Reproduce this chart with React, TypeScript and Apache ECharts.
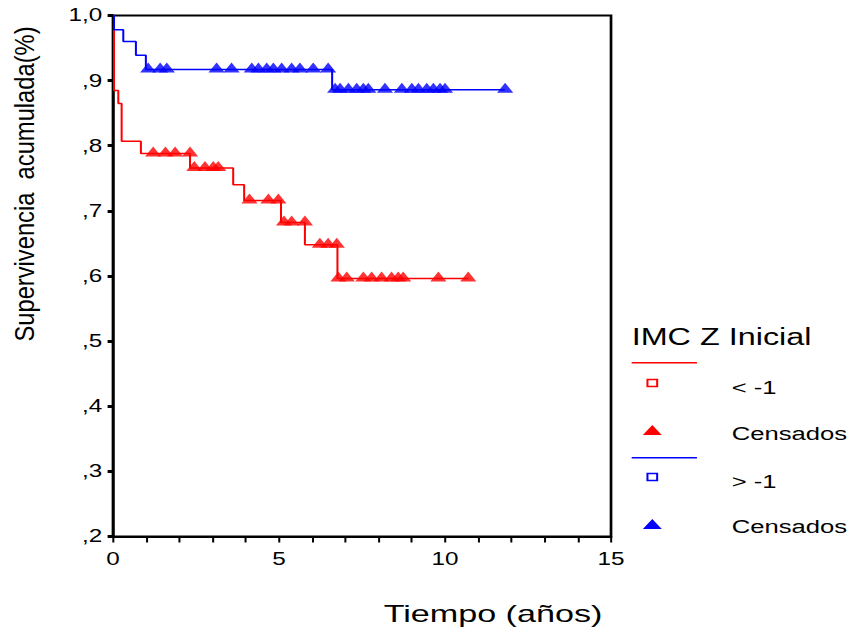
import React, { useEffect, useRef } from "react";
import * as echarts from "echarts";

// Kaplan–Meier steps: event times (years) and cumulative survival after each step
const redTimes = [0, 0.03, 0.16, 0.26, 0.84, 2.32, 3.62, 3.95, 5.06, 5.78, 6.76, 10.7];
const redSurv = [1.0, 0.885, 0.865, 0.807, 0.788, 0.766, 0.74, 0.716, 0.682, 0.648, 0.596, 0.596];

const blueTimes = [0, 0.03, 0.31, 0.69, 0.99, 6.6, 11.8];
const blueSurv = [1.0, 0.978, 0.96, 0.939, 0.917, 0.886, 0.886];

// Censored observations
const redCensTimes = [
  1.21, 1.58, 1.87, 2.32,
  2.45, 2.77, 3.02, 3.17,
  4.11, 4.68, 4.98,
  5.15, 5.38, 5.78,
  6.23, 6.48, 6.74,
  6.79, 7.04, 7.54, 7.79, 8.09, 8.39, 8.59, 8.74, 9.8, 10.7,
];
const redCensSurv = [
  0.788, 0.788, 0.788, 0.788,
  0.766, 0.766, 0.766, 0.766,
  0.716, 0.716, 0.716,
  0.682, 0.682, 0.682,
  0.648, 0.648, 0.648,
  0.596, 0.596, 0.596, 0.596, 0.596, 0.596, 0.596, 0.596, 0.596, 0.596,
];

const blueCensTimes = [
  1.06, 1.42, 1.62, 3.12, 3.57, 4.18, 4.38, 4.63, 4.83, 5.08, 5.38, 5.63, 6.03, 6.48,
  6.69, 6.84, 7.09, 7.34, 7.54, 7.69, 8.19, 8.7, 9.0, 9.2, 9.45, 9.65, 9.85, 10.0, 11.81,
];
const blueCensSurv = [
  0.917, 0.917, 0.917, 0.917, 0.917, 0.917, 0.917, 0.917, 0.917, 0.917, 0.917, 0.917, 0.917, 0.917,
  0.886, 0.886, 0.886, 0.886, 0.886, 0.886, 0.886, 0.886, 0.886, 0.886, 0.886, 0.886, 0.886, 0.886, 0.886,
];

const xTickLabels = ["0", "5", "10", "15"];
const yTickLabels: Record<string, string> = {
  "2": ",2", "3": ",3", "4": ",4", "5": ",5", "6": ",6", "7": ",7", "8": ",8", "9": ",9", "10": "1,0",
};

const legendTitle = "IMC Z Inicial";
const groupLabels = ["< -1", "> -1"];
const censLabel = "Censados";
const xTitle = "Tiempo (años)";
const yTitle = "Supervivencia  acumulada(%)";

const RED = "#ff0000";
const BLUE = "#0000ff";
const FONT = "'Liberation Sans', Arial, Helvetica, sans-serif";

// the drawing is laid out on a narrower canvas and widened horizontally
const PAGE_W = 854;
const CHART_W = 633;
const STRETCH = PAGE_W / CHART_W;
const CHART_H = 631;

const zip = (a: number[], b: number[]) => a.map((v, i) => [v, b[i]]);

function legendItems() {
  const lx = 468.2;
  const lineEnd = 516.6;
  const mx = 483.5;
  const tx = 542.3;
  const rows = [
    { color: RED, lineY: 362.7, sqY: 383, labY: 387.5, triY: 430, censY: 434, label: groupLabels[0] },
    { color: BLUE, lineY: 457.7, sqY: 477, labY: 481.5, triY: 524, censY: 527, label: groupLabels[1] },
  ];
  const els: any[] = [
    {
      type: "text",
      x: lx,
      y: 337,
      style: { text: legendTitle, fill: "#000", font: `24px ${FONT}`, align: "left", verticalAlign: "middle" },
    },
  ];
  rows.forEach((r) => {
    els.push(
      {
        type: "line",
        shape: { x1: lx, y1: r.lineY, x2: lineEnd, y2: r.lineY },
        style: { stroke: r.color, lineWidth: 1.5 },
      },
      {
        type: "rect",
        shape: { x: mx - 3.6, y: r.sqY - 3.4, width: 7.2, height: 6.8 },
        style: { fill: "#fff", stroke: r.color, lineWidth: 1.5 },
      },
      {
        type: "text",
        x: tx,
        y: r.labY,
        style: { text: r.label, fill: "#000", font: `19px ${FONT}`, align: "left", verticalAlign: "middle" },
      },
      {
        type: "polygon",
        shape: { points: [[mx - 7, r.triY + 5], [mx + 7, r.triY + 5], [mx, r.triY - 5]] },
        style: { fill: r.color },
      },
      {
        type: "text",
        x: tx,
        y: r.censY,
        style: { text: censLabel, fill: "#000", font: `19px ${FONT}`, align: "left", verticalAlign: "middle" },
      }
    );
  });
  return els;
}

export default function App() {
  const ref = useRef<HTMLDivElement>(null);

  useEffect(() => {
    if (!ref.current) return;
    const chart = echarts.init(ref.current, undefined, { renderer: "svg" });
    chart.setOption({
      animation: false,
      backgroundColor: "#fff",
      grid: {
        show: true,
        left: 83.76,
        right: 180.1,
        top: 15.5,
        bottom: 94.5,
        borderColor: "#000",
        borderWidth: 2,
        backgroundColor: "transparent",
      },
      xAxis: {
        type: "value",
        min: 0,
        max: 15,
        interval: 1,
        axisLine: { show: true, lineStyle: { color: "#000", width: 2 } },
        axisTick: { show: true, length: 6, lineStyle: { color: "#000", width: 1.5 } },
        axisLabel: {
          color: "#000",
          fontFamily: FONT,
          fontSize: 18,
          margin: 14,
          formatter: (v: number) => (v % 5 === 0 ? xTickLabels[v / 5] : ""),
        },
        splitLine: { show: false },
      },
      yAxis: {
        type: "value",
        min: 0.2,
        max: 1.0,
        interval: 0.1,
        axisLine: { show: true, lineStyle: { color: "#000", width: 2 } },
        axisTick: { show: true, length: 4, lineStyle: { color: "#000", width: 3 } },
        axisLabel: {
          color: "#000",
          fontFamily: FONT,
          fontSize: 18,
          margin: 8,
          formatter: (v: number) => yTickLabels[String(Math.round(v * 10))] ?? "",
        },
        splitLine: { show: false },
      },
      series: [
        {
          type: "line",
          step: "end",
          data: zip(redTimes, redSurv),
          showSymbol: false,
          lineStyle: { color: RED, width: 1.5 },
          z: 2,
        },
        {
          type: "line",
          step: "end",
          data: zip(blueTimes, blueSurv),
          showSymbol: false,
          lineStyle: { color: BLUE, width: 1.5 },
          z: 2,
        },
        {
          type: "scatter",
          data: zip(redCensTimes, redCensSurv),
          symbol: "triangle",
          symbolSize: [12, 10],
          symbolOffset: [0, -2],
          itemStyle: { color: RED },
          z: 3,
        },
        {
          type: "scatter",
          data: zip(blueCensTimes, blueCensSurv),
          symbol: "triangle",
          symbolSize: [12, 10],
          symbolOffset: [0, -2],
          itemStyle: { color: BLUE },
          z: 3,
        },
      ],
      graphic: [
        {
          type: "text",
          x: 17.8,
          y: 184,
          rotation: Math.PI / 2,
          scaleX: 1.13,
          style: { text: yTitle, fill: "#000", font: `21px ${FONT}`, align: "center", verticalAlign: "middle" },
        },
        {
          type: "text",
          x: 365.4,
          y: 614,
          scaleX: 1.1,
          style: { text: xTitle, fill: "#000", font: `23px ${FONT}`, align: "center", verticalAlign: "middle" },
        },
        ...legendItems(),
      ],
    });
    return () => chart.dispose();
  }, []);

  return (
    <div
      style={{
        position: "fixed",
        left: 0,
        top: 0,
        width: PAGE_W,
        height: CHART_H,
        overflow: "hidden",
        background: "#fff",
      }}
    >
      <div
        ref={ref}
        style={{
          width: CHART_W,
          height: CHART_H,
          transform: `scaleX(${STRETCH})`,
          transformOrigin: "0 0",
        }}
      />
    </div>
  );
}
